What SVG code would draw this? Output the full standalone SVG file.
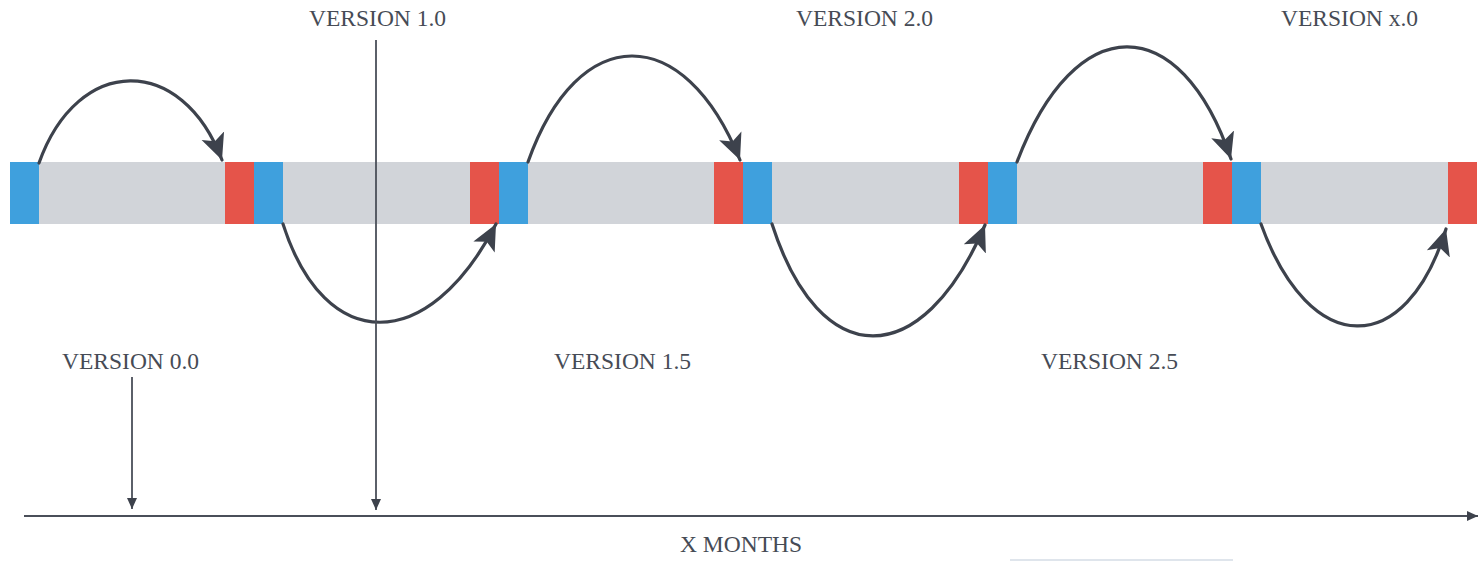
<svg xmlns="http://www.w3.org/2000/svg" width="1481" height="562" viewBox="0 0 1481 562">
<style>
.lbl{font-family:"Liberation Serif","DejaVu Serif",serif;font-size:23.5px;fill:#464b55}
.bar{fill:#d1d4d9}
.blue{fill:#3fa0dd}
.red{fill:#e5544a}
.arc{fill:none;stroke:#3d424c;stroke-width:3.2;stroke-linecap:round}
.thin{fill:none;stroke:#4a4f59;stroke-width:1.8}
</style>
<defs>
<marker id="big" markerUnits="userSpaceOnUse" markerWidth="28" markerHeight="26" viewBox="0 0 28 26" refX="26" refY="13" orient="auto">
<path d="M0,1 L26,13 L0,25 L6,13 Z" fill="#3d424c"/>
</marker>
<marker id="small" markerUnits="userSpaceOnUse" markerWidth="12" markerHeight="10" viewBox="0 0 12 10" refX="11" refY="5" orient="auto">
<path d="M0,0 L11,5 L0,10 Z" fill="#3d424c"/>
</marker>
</defs>

<g id="timeline-bar">
<rect class="bar" x="10" y="162" width="1467" height="62"/>
<rect class="blue" x="10" y="162" width="29" height="62"/>
<rect class="red" x="225" y="162" width="29" height="62"/>
<rect class="blue" x="254" y="162" width="29" height="62"/>
<rect class="red" x="470" y="162" width="29" height="62"/>
<rect class="blue" x="499" y="162" width="29" height="62"/>
<rect class="red" x="714" y="162" width="29" height="62"/>
<rect class="blue" x="743" y="162" width="29" height="62"/>
<rect class="red" x="959" y="162" width="29" height="62"/>
<rect class="blue" x="988" y="162" width="29" height="62"/>
<rect class="red" x="1203" y="162" width="29" height="62"/>
<rect class="blue" x="1232" y="162" width="29" height="62"/>
<rect class="red" x="1448" y="162" width="29" height="62"/>
</g>

<g id="labels">
<text id="v10" class="lbl" x="309" y="26">VERSION 1.0</text>
<text id="v20" class="lbl" x="796" y="26">VERSION 2.0</text>
<text id="vx0" class="lbl" x="1281" y="26">VERSION x.0</text>
<text id="v00" class="lbl" x="62" y="369">VERSION 0.0</text>
<text id="v15" class="lbl" x="554" y="369">VERSION 1.5</text>
<text id="v25" class="lbl" x="1041" y="369">VERSION 2.5</text>
<text id="months" class="lbl" x="680" y="552">X MONTHS</text>
</g>

<g id="connectors">
<path class="arc" d="M39,163 C78,54 182,54 222,160" marker-end="url(#big)"/>
<path class="arc" d="M283,224 C325,355 428,355 496,224" marker-end="url(#big)"/>
<path class="arc" d="M528,162 C578,21 684,21 740,160" marker-end="url(#big)"/>
<path class="arc" d="M772,224 C820,373 922,373 985,225" marker-end="url(#big)"/>
<path class="arc" d="M1017,162 C1075,9 1180,9 1231,159" marker-end="url(#big)"/>
<path class="arc" d="M1261,224 C1310,359 1406,359 1446,229" marker-end="url(#big)"/>
<path class="thin" d="M376,40 L376,510" marker-end="url(#small)"/>
<path class="thin" d="M132,377 L132,509" marker-end="url(#small)"/>
<path class="thin" d="M24,516 L1478,516" stroke-width="2" marker-end="url(#small)"/>
</g>
<line x1="1010" y1="560" x2="1233" y2="560" stroke="#dfe5ec" stroke-width="2"/>
</svg>
